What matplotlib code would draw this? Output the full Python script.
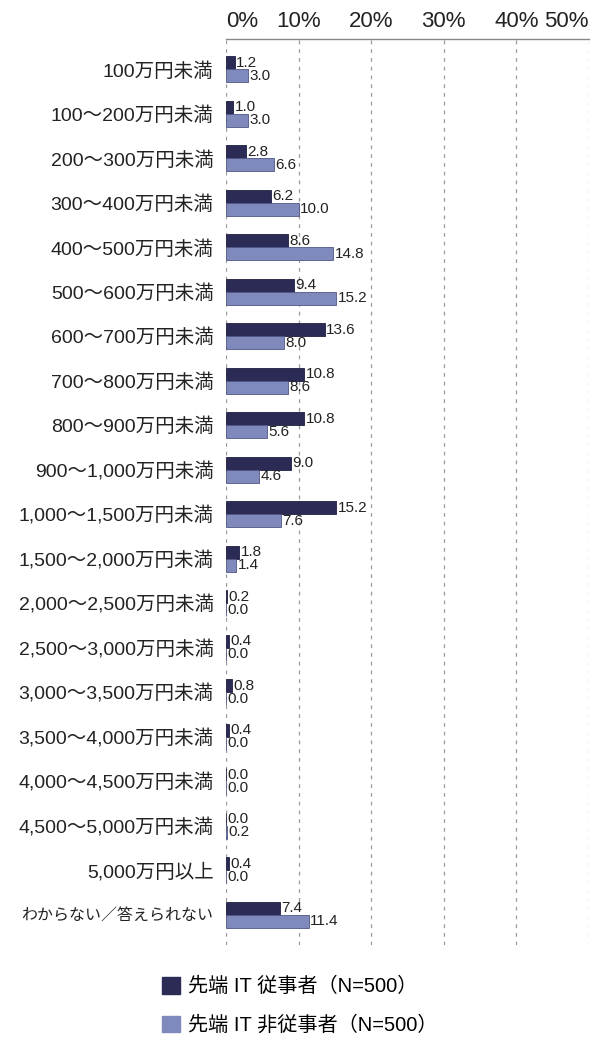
import numpy as np
import matplotlib
matplotlib.use("Agg")
import matplotlib.pyplot as plt
from matplotlib.patches import Patch

plt.rcParams['font.family'] = ['Liberation Sans', 'Noto Sans CJK JP', 'DejaVu Sans']

categories = ["100万円未満", "100～200万円未満", "200～300万円未満", "300～400万円未満",
              "400～500万円未満", "500～600万円未満", "600～700万円未満", "700～800万円未満",
              "800～900万円未満", "900～1,000万円未満", "1,000～1,500万円未満",
              "1,500～2,000万円未満", "2,000～2,500万円未満", "2,500～3,000万円未満",
              "3,000～3,500万円未満", "3,500～4,000万円未満", "4,000～4,500万円未満",
              "4,500～5,000万円未満", "5,000万円以上", "わからない／答えられない"]
it_workers = [1.2, 1.0, 2.8, 6.2, 8.6, 9.4, 13.6, 10.8, 10.8, 9.0,
              15.2, 1.8, 0.2, 0.4, 0.8, 0.4, 0.0, 0.0, 0.4, 7.4]
non_it_workers = [3.0, 3.0, 6.6, 10.0, 14.8, 15.2, 8.0, 8.6, 5.6, 4.6,
                  7.6, 1.4, 0.0, 0.0, 0.0, 0.0, 0.0, 0.2, 0.0, 11.4]
xticks = [0, 10, 20, 30, 40, 50]
series_labels = ["先端 IT 従事者（N=500）", "先端 IT 非従事者（N=500）"]

dark = '#2b2b55'
light = '#7f89bc'
txt = '#222222'

fig = plt.figure(figsize=(6.0, 10.46), dpi=100)
ax = fig.add_axes([0.3767, 0.0966, 0.605, 0.8661])

y = np.arange(len(categories))
h = 0.29
b1 = ax.barh(y - h / 2, it_workers, height=h, color=dark, edgecolor='#1e1e40', linewidth=0.6)
b2 = ax.barh(y + h / 2, non_it_workers, height=h, color=light, edgecolor='#4f5786', linewidth=0.6)
ax.bar_label(b1, fmt='%.1f', padding=1, fontsize=11, color=txt)
ax.bar_label(b2, fmt='%.1f', padding=1, fontsize=11, color=txt)

ax.set_xlim(0, 50)
ax.set_ylim(19.68, -0.68)
ax.set_yticks(y)
ax.set_yticklabels(categories, fontsize=14, color=txt)
ax.get_yticklabels()[-1].set_fontsize(11.5)
ax.tick_params(axis='y', length=0, pad=9)

ax.xaxis.tick_top()
ax.set_xticks(xticks)
ax.set_xticklabels([f"{t}%" for t in xticks], fontsize=16, color=txt)
ax.tick_params(axis='x', length=0, pad=5)
ax.get_xticklabels()[0].set_ha('left')
ax.get_xticklabels()[-1].set_ha('right')

ax.xaxis.grid(True, color='#999999', linestyle=(0, (3, 4)), linewidth=0.9)
ax.set_axisbelow(True)
for s in ['left', 'right', 'bottom']:
    ax.spines[s].set_visible(False)
ax.spines['top'].set_color('#888888')
ax.spines['top'].set_linewidth(1.0)

handles = [Patch(facecolor=dark, edgecolor=dark), Patch(facecolor=light, edgecolor=light)]
fig.legend(handles, series_labels, loc='upper left', bbox_to_anchor=(0.27, 0.066),
           frameon=False, fontsize=14.5, handlelength=0.9, handleheight=0.9,
           handletextpad=0.4, labelspacing=0.95, borderpad=0, borderaxespad=0)

fig.savefig('out.png', dpi=100, facecolor='white')
